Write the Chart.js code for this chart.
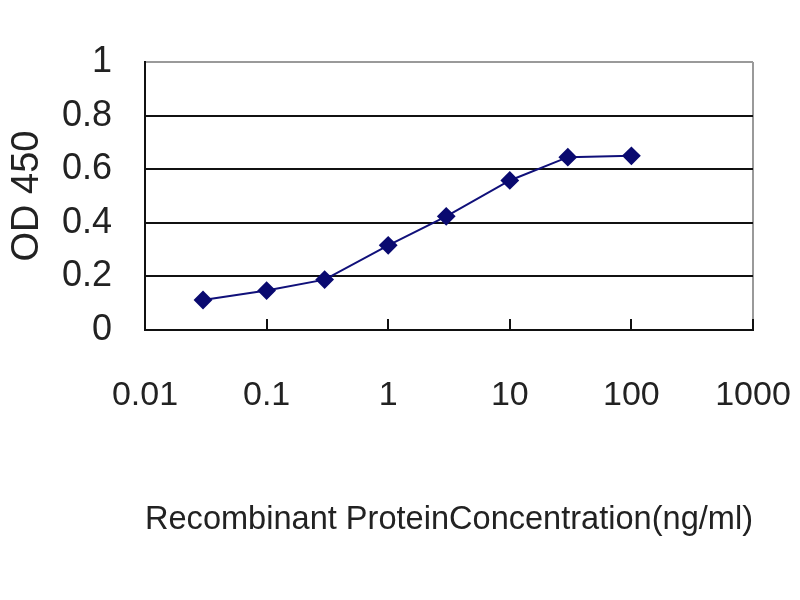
<!DOCTYPE html>
<html>
<head>
<meta charset="utf-8">
<script src="https://cdn.jsdelivr.net/npm/chart.js@4"></script>
<style>
html,body{margin:0;padding:0;background:#fff;}
canvas{display:block;}
</style>
</head>
<body>
<canvas id="c" width="800" height="600"></canvas>
<script>
const concentrations = [0.03, 0.1, 0.3, 1, 3, 10, 30, 100];
const od450 = [0.112, 0.147, 0.188, 0.316, 0.424, 0.558, 0.645, 0.65];
const xTickValues = [0.01, 0.1, 1, 10, 100, 1000];
const xTickLabels = ['0.01', '0.1', '1', '10', '100', '1000'];
const yTickValues = [0, 0.2, 0.4, 0.6, 0.8, 1];
const yTickLabels = ['0', '0.2', '0.4', '0.6', '0.8', '1'];
const xTitle = 'Recombinant ProteinConcentration(ng/ml)';
const yTitle = 'OD 450';

const innerTicks = {
  id: 'innerTicks',
  beforeDatasetsDraw(chart) {
    const x = chart.scales.x, ctx = chart.ctx, b = chart.chartArea.bottom;
    ctx.save();
    ctx.strokeStyle = '#111';
    ctx.lineWidth = 2;
    xTickValues.slice(1).forEach(v => {
      const px = Math.round(x.getPixelForValue(v));
      ctx.beginPath();
      ctx.moveTo(px, b);
      ctx.lineTo(px, b - 11);
      ctx.stroke();
    });
    ctx.restore();
  }
};

new Chart(document.getElementById('c'), {
  type: 'line',
  data: {
    datasets: [{
      data: concentrations.map((c, i) => ({ x: c, y: od450[i] })),
      borderColor: '#10107a',
      backgroundColor: '#0a0a70',
      borderWidth: 2,
      pointStyle: 'rectRot',
      pointRadius: 8,
      pointBackgroundColor: '#0a0a70',
      pointBorderColor: '#0a0a70',
      tension: 0
    }]
  },
  options: {
    responsive: false,
    animation: false,
    layout: { padding: { top: 62, right: 47, left: 0, bottom: 60 } },
    plugins: { legend: { display: false }, tooltip: { enabled: false } },
    scales: {
      x: {
        type: 'logarithmic',
        min: 0.01,
        max: 1000,
        afterBuildTicks(s) { s.ticks = xTickValues.map(v => ({ value: v })); },
        afterFit(s) { s.height = 600 - 60 - 330; },
        ticks: {
          autoSkip: false,
          maxRotation: 0,
          padding: 0,
          color: '#222',
          font: { family: "'Liberation Sans', Arial, sans-serif", size: 34 },
          callback: (v, i) => xTickLabels[i]
        },
        grid: {
          drawTicks: true,
          tickLength: 45,
          tickColor: 'rgba(0,0,0,0)',
          lineWidth: 2,
          color: ctx => (ctx.tick && ctx.tick.value === 1000) ? '#9a9a9a' : 'rgba(0,0,0,0)'
        },
        border: { display: true, color: '#111', width: 2 },
        title: {
          display: true,
          text: xTitle,
          color: '#222',
          padding: { top: 2, bottom: 0 },
          font: { family: "'Liberation Sans', Arial, sans-serif", size: 33 }
        }
      },
      y: {
        min: 0,
        max: 1,
        afterBuildTicks(s) { s.ticks = yTickValues.map(v => ({ value: v })); },
        afterFit(s) { s.width = 145; },
        ticks: {
          padding: 33,
          color: '#222',
          font: { family: "'Liberation Sans', Arial, sans-serif", size: 36 },
          callback: (v, i) => yTickLabels[i]
        },
        grid: {
          drawTicks: false,
          lineWidth: 2,
          color: ctx => (ctx.tick && ctx.tick.value === 1) ? '#9a9a9a' : '#111'
        },
        border: { display: true, color: '#111', width: 2 },
        title: {
          display: true,
          text: yTitle,
          color: '#222',
          padding: { top: 5, bottom: 0 },
          font: { family: "'Liberation Sans', Arial, sans-serif", size: 38 }
        }
      }
    }
  },
  plugins: [innerTicks]
});
</script>
</body>
</html>
